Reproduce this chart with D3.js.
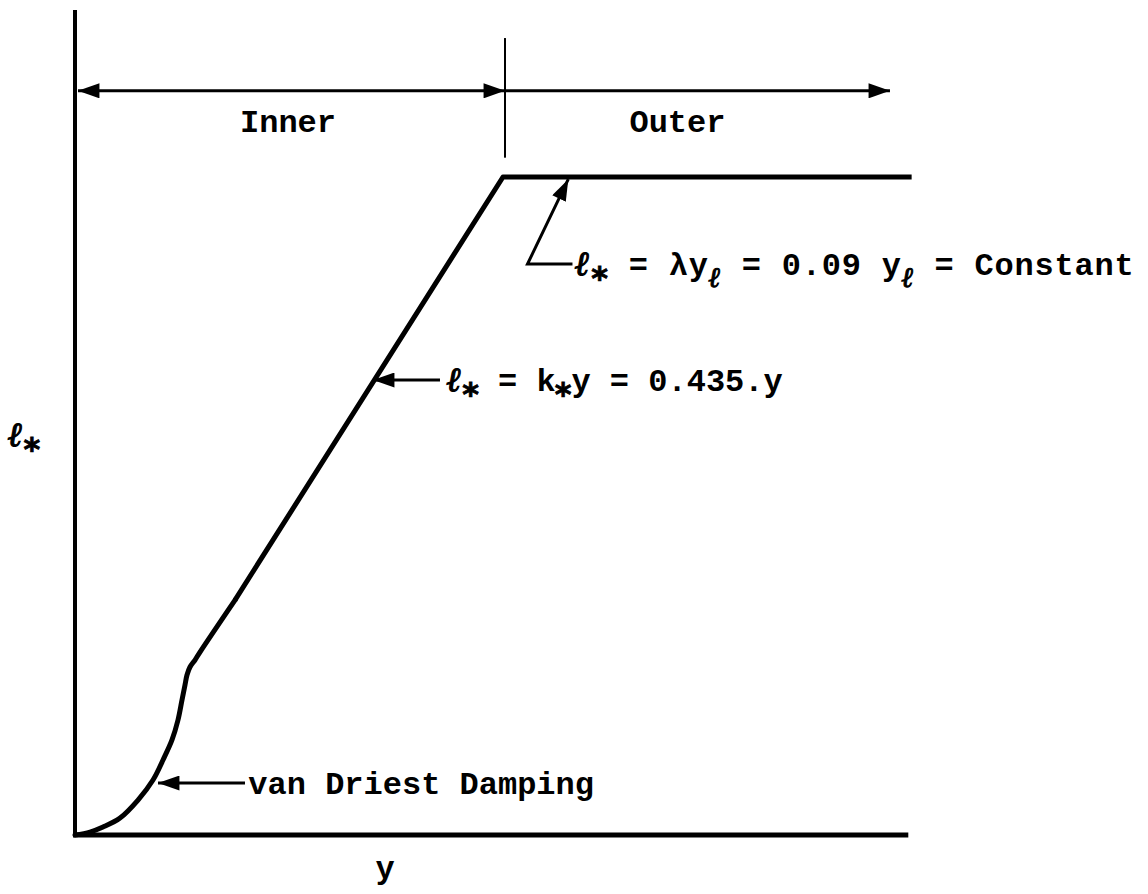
<!DOCTYPE html>
<html><head><meta charset="utf-8">
<script src="https://cdn.jsdelivr.net/npm/d3@7"></script>
<style>body{margin:0;background:#fff}svg{display:block}text{font-family:"Liberation Mono","DejaVu Sans Mono",monospace;font-weight:bold;fill:#000}</style>
</head><body>
<script>
// schematic data, arbitrary units
const dampX = [0, 0.18, 0.336, 0.54, 0.756, 0.936, 1.056, 1.164, 1.236, 1.284, 1.32, 1.344, 1.38, 1.44, 1.50, 1.92];
const dampY = [0, 0.036, 0.097, 0.206, 0.424, 0.667, 0.909, 1.152, 1.394, 1.636, 1.818, 1.939, 2.036, 2.121, 2.218, 2.848];
const outerX = [1.92, 5.136, 10.04];
const outerY = [2.848, 7.976, 7.976];
const regionLabels = ["Inner", "Outer"];
const regionBounds = [0, 5.16, 9.78];
const xDomain = [0, 10];
const yDomain = [0, 10];

const W = 1148, H = 894;
const svg = d3.select("body").append("svg").attr("width", W).attr("height", H);
const x = d3.scaleLinear().domain(xDomain).range([75, 908.3]);
const y = d3.scaleLinear().domain(yDomain).range([835, 10]);

const defs = svg.append("defs");
defs.append("marker").attr("id", "ah").attr("viewBox", "0 0 20 14")
  .attr("refX", 20).attr("refY", 7).attr("markerWidth", 22).attr("markerHeight", 15)
  .attr("markerUnits", "userSpaceOnUse").attr("orient", "auto-start-reverse")
  .append("path").attr("d", "M0,0 L20,7 L0,14 Z").attr("fill", "#000");

// axes
svg.append("line").attr("x1", x(0)).attr("x2", x(0)).attr("y1", y(10)).attr("y2", y(0) + 2)
  .attr("stroke", "#000").attr("stroke-width", 4);
svg.append("line").attr("x1", x(0) - 2).attr("x2", x(10)).attr("y1", y(0)).attr("y2", y(0))
  .attr("stroke", "#000").attr("stroke-width", 5);

// curves
svg.append("path").datum(dampX.map((v, i) => [v, dampY[i]]))
  .attr("d", d3.line().x(d => x(d[0])).y(d => y(d[1])).curve(d3.curveCatmullRom.alpha(0.5)))
  .attr("fill", "none").attr("stroke", "#000")
  .attr("stroke-width", 5).attr("stroke-linejoin", "round").attr("stroke-linecap", "round");
svg.append("path").datum(outerX.map((v, i) => [v, outerY[i]]))
  .attr("d", d3.line().x(d => x(d[0])).y(d => y(d[1]))).attr("fill", "none").attr("stroke", "#000")
  .attr("stroke-width", 5).attr("stroke-linejoin", "round");

// region dimension line
const dimY = 9.02;
svg.append("line").attr("x1", x(regionBounds[1])).attr("x2", x(regionBounds[1]))
  .attr("y1", y(9.66)).attr("y2", y(8.21)).attr("stroke", "#000").attr("stroke-width", 2);
svg.append("line").attr("x1", x(regionBounds[0]) + 3).attr("x2", x(regionBounds[1]))
  .attr("y1", y(dimY)).attr("y2", y(dimY)).attr("stroke", "#000").attr("stroke-width", 3)
  .attr("marker-start", "url(#ah)").attr("marker-end", "url(#ah)");
svg.append("line").attr("x1", x(regionBounds[1])).attr("x2", x(regionBounds[2]))
  .attr("y1", y(dimY)).attr("y2", y(dimY)).attr("stroke", "#000").attr("stroke-width", 3)
  .attr("marker-end", "url(#ah)");
regionLabels.forEach((t, i) => {
  svg.append("text").attr("x", (x(regionBounds[i]) + x(regionBounds[i + 1])) / 2 + (i === 0 ? -2 : -20))
    .attr("y", y(dimY) + 41).attr("text-anchor", "middle").attr("font-size", 32).text(t);
});

// annotations
function arrow(pts) {
  svg.append("path").attr("d", d3.line().x(d => x(d[0])).y(d => y(d[1]))(pts))
    .attr("fill", "none").attr("stroke", "#000").attr("stroke-width", 3)
    .attr("marker-end", "url(#ah)");
}
arrow([[2.04, 0.63], [0.996, 0.63]]);
arrow([[4.38, 5.515], [3.576, 5.515]]);
arrow([[5.97, 6.92], [5.43, 6.92], [5.92, 7.95]]);

const fs = 32;
svg.append("text").attr("x", x(2.08)).attr("y", y(0.63) + 11).attr("font-size", fs).text("van Driest Damping");

const ELL = t => t.append("tspan").attr("font-family", "DejaVu Serif").attr("font-style", "italic")
  .attr("font-weight", "bold").attr("stroke", "#000").attr("stroke-width", 1.2);
const STAR = (t, dx) => t.append("tspan").attr("font-family", "DejaVu Sans").attr("font-weight", "bold")
  .attr("font-size", 32).attr("dy", 14).attr("dx", dx || 0).attr("stroke", "#000").attr("stroke-width", 0.8).text("*");
function ell(t) {
  ELL(t).attr("font-size", 34).text("ℓ");
  STAR(t, 1);
}
let t1 = svg.append("text").attr("x", x(4.46)).attr("y", y(5.515) + 11).attr("font-size", fs);
ell(t1);
t1.append("tspan").attr("dy", -14).text(" = k");
STAR(t1, -1);
t1.append("tspan").attr("dy", -14).text("y = 0.435.y");

let t2 = svg.append("text").attr("x", x(6.0)).attr("y", y(6.92) + 11).attr("font-size", fs)
  .attr("letter-spacing", 0.8);
ell(t2);
t2.append("tspan").attr("dy", -14).text(" = λy");
ELL(t2).attr("dy", 12).attr("font-size", 28).attr("stroke-width", 1).text("ℓ");
t2.append("tspan").attr("dy", -12).text(" = 0.09 y");
ELL(t2).attr("dy", 12).attr("font-size", 28).attr("stroke-width", 1).text("ℓ");
t2.append("tspan").attr("dy", -12).text(" = Constant");

// axis labels
let yl = svg.append("text").attr("x", 8).attr("y", 446).attr("font-size", fs);
ell(yl);
svg.append("text").attr("x", 385).attr("y", 878).attr("text-anchor", "middle").attr("font-size", fs).text("y");
</script>
</body></html>
